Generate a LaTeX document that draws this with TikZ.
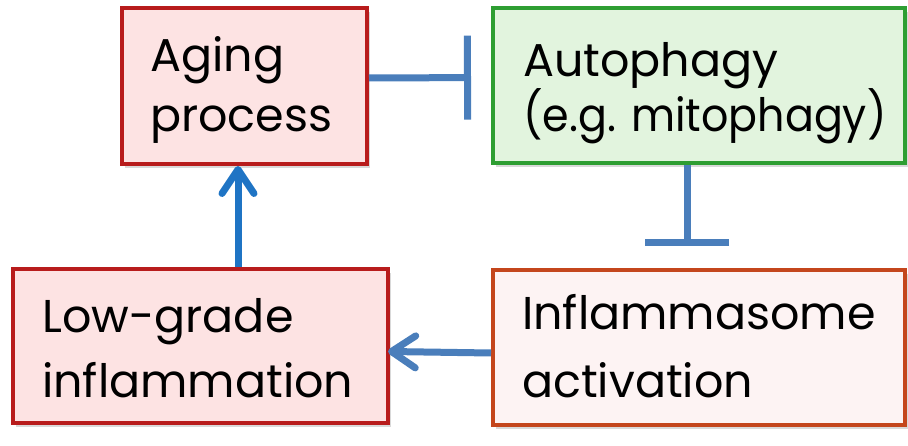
\documentclass[tikz,border=0pt]{standalone}
\usepackage{fontspec}
\setmainfont{Poppins}
\usetikzlibrary{arrows.meta,shadows}
\definecolor{agingred}{HTML}{B81C1C}
\definecolor{agingfill}{HTML}{FDE3E3}
\definecolor{inflred}{HTML}{C4461C}
\definecolor{inflfill}{HTML}{FDF3F3}
\definecolor{autogreen}{HTML}{2E9E32}
\definecolor{autofill}{HTML}{E2F4DE}
\definecolor{linkblue}{HTML}{4A7EBB}
\definecolor{arrowblue}{HTML}{1F74C4}
\tikzset{
  boxbase/.style={rectangle, line width=4pt, inner sep=0pt,
    drop shadow={shadow xshift=3pt, shadow yshift=-4pt, opacity=0.3}},
  redbox/.style={boxbase, draw=agingred, fill=agingfill},
  greenbox/.style={boxbase, draw=autogreen, fill=autofill},
  orangebox/.style={boxbase, draw=inflred, fill=inflfill},
  label/.style={anchor=base west, inner sep=0pt, font=\fontsize{46}{56}\selectfont},
  inhib/.style={draw=linkblue, line width=7pt, -{Bar[width=84pt, line width=7pt]}},
  act/.style={draw=arrowblue, line width=7pt, -{Straight Barb[length=24pt, width=32pt, round]}},
  actb/.style={draw=linkblue, line width=7pt, -{Straight Barb[length=24pt, width=32pt, round]}},
}
\begin{document}
\begin{tikzpicture}[x=1pt, y=-1pt]
\useasboundingbox (0,0) rectangle (908,446);
\node[redbox, minimum width=245pt, minimum height=156pt] (aging) at (244.5,86) {};
\node[greenbox, minimum width=412pt, minimum height=155pt] (auto) at (699,85.5) {};
\node[redbox, minimum width=375pt, minimum height=154pt] (low) at (200.5,346) {};
\node[orangebox, minimum width=412pt, minimum height=155pt] (infl) at (699,347.5) {};
\node[label] (t1) at (150,72) {Aging};
\node[label] (t2) at (150,132) {process};
\node[label] (t3) at (523,77) {Autophagy};
\node[label] (t4) at (523,132) {\scalebox{0.93}[1]{(e.g. mitophagy)}};
\node[label] (t5) at (42,333) {Low-grade};
\node[label] (t6) at (42,397) {inflammation};
\node[label] (t7) at (522,330) {Inflammasome};
\node[label] (t8) at (522,397) {activation};
\draw[inhib, shorten >=20pt] ([yshift=8pt]aging.east) -- ([yshift=8pt]auto.west);
\draw[inhib, shorten >=22pt] ([xshift=-12pt]auto.south) -- ([xshift=-12pt]infl.north);
\draw[act] ([xshift=37.5pt]low.north) -- ([xshift=-6.5pt]aging.south);
\draw[actb, shorten >=-2pt] ([yshift=-5.5pt]infl.west) -- ([yshift=-5.5pt]low.east);
\end{tikzpicture}
\end{document}
